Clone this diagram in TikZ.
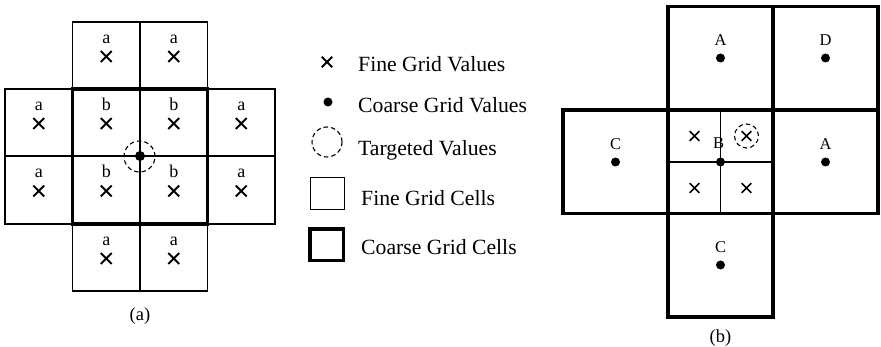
\documentclass[tikz,border=0pt]{standalone}
\usepackage{fontspec}
\setmainfont{Liberation Serif}
\usetikzlibrary{shapes.misc}
\begin{document}
\begin{tikzpicture}[x=1pt,y=-1pt,
  thincell/.style={line width=1.1pt},
  thickcell/.style={line width=3.4pt},
  fx/.style={cross out,draw,line width=1.9pt,minimum size=9pt,inner sep=0pt},
  fxb/.style={cross out,draw,line width=1.7pt,minimum size=8pt,inner sep=0pt},
  cdot/.style={circle,fill,inner sep=0pt,minimum size=10pt},
  cdotb/.style={circle,fill,inner sep=0pt,minimum size=9pt},
  tgt/.style={circle,draw,dash pattern=on 4.5pt off 3pt,line width=1.1pt,inner sep=0pt},
  lta/.style={font=\fontsize{18}{18}\selectfont,anchor=base,inner sep=0pt},
  ltb/.style={font=\fontsize{16.5}{18}\selectfont,anchor=base,inner sep=0pt},
  legtext/.style={font=\fontsize{21.7}{24}\selectfont,anchor=base west,inner sep=0pt},
  captext/.style={font=\fontsize{18.5}{20}\selectfont,inner sep=0pt}
]
\useasboundingbox (0,0) rectangle (881,347);

% ---------- panel (a) ----------
\draw[thincell] (72.5,22) rectangle (140,89) (140,22) rectangle (207.5,89);
\foreach \xa/\xb in {5/72.5,72.5/140,140/207.5,207.5/275}{
  \draw[thincell] (\xa,89) rectangle (\xb,156);
  \draw[thincell] (\xa,156) rectangle (\xb,224);
}
\draw[thincell] (72.5,224) rectangle (140,291) (140,224) rectangle (207.5,291);
\draw[thickcell] (72.5,89) rectangle (207.5,224);

\foreach \cx/\cy/\l/\n in {106.25/55.5/a/1,173.75/55.5/a/2,
  38.75/122.5/a/3,106.25/122.5/b/4,173.75/122.5/b/5,241.25/122.5/a/6,
  38.75/190/a/7,106.25/190/b/8,173.75/190/b/9,241.25/190/a/10,
  106.25/257.5/a/11,173.75/257.5/a/12}{
  \node[lta] (la\n) at (\cx,\cy-12) {\l};
  \node[fx] (xa\n) at (\cx,\cy+1) {};
}
\node[cdot] (dota) at (140,156) {};
\node[tgt,minimum size=31pt] (tgta) at (139.5,156.5) {};
\node[captext] (capa) at (140,316) {(a)};

% ---------- legend ----------
\node[fx,minimum size=8.5pt] (legx) at (327,62) {};
\node[legtext] (legxt) at (358,72) {Fine Grid Values};
\node[cdot,minimum size=9pt] (legdot) at (328,102) {};
\node[legtext] (legdott) at (358,113) {Coarse Grid Values};
\node[tgt,minimum size=30pt] (legtgt) at (327,142) {};
\node[legtext] (legtgtt) at (358,156) {Targeted Values};
\draw[line width=1.3pt] (310.5,177.5) rectangle (344.5,209.5);
\node[legtext] (legfc) at (361,206) {Fine Grid Cells};
\draw[line width=3.6pt] (310,229) rectangle (343.5,260.5);
\node[legtext] (legcc) at (361,255) {Coarse Grid Cells};

% ---------- panel (b) ----------
\draw[thincell] (720.5,110) -- (720.5,213.5);
\draw[thincell] (668,162) -- (773,162);
\draw[thickcell] (668,6.5) rectangle (773,110);
\draw[thickcell] (773,6.5) rectangle (878,110);
\draw[thickcell] (563,110) rectangle (668,213.5);
\draw[thickcell] (668,110) rectangle (773,213.5);
\draw[thickcell] (773,110) rectangle (878,213.5);
\draw[thickcell] (668,213.5) rectangle (773,317);

\foreach \cx/\cy/\l/\n in {720.5/58/A/1,825.5/58/D/2,615.5/162/C/3,
  825.5/162/A/4,720.5/265/C/5}{
  \node[ltb] (lb\n) at (\cx,\cy-12.5) {\l};
  \node[cdotb] (db\n) at (\cx,\cy) {};
}
\node[ltb] (lbB) at (718.5,149) {B};
\node[cdotb] (dbB) at (720.5,162) {};
\foreach \cx/\cy/\n in {694.5/136/1,746.5/136/2,694.5/188/3,746.5/188/4}{
  \node[fxb] (xb\n) at (\cx,\cy) {};
}
\node[tgt,minimum size=24pt] (tgtb) at (xb2) {};
\node[captext] (capb) at (720.5,338) {(b)};
\end{tikzpicture}
\end{document}
